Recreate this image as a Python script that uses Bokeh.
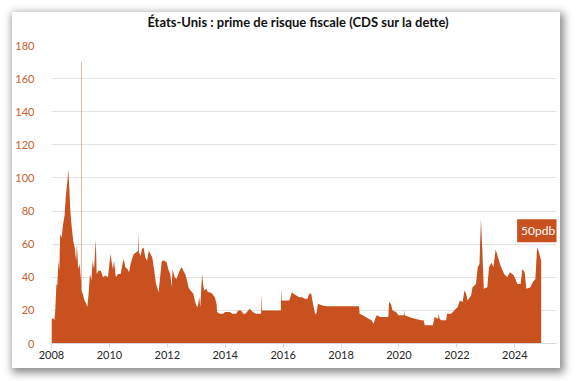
from bokeh.plotting import figure
from bokeh.models import FixedTicker, Label, Div
from bokeh.layouts import column
from bokeh.embed import file_html
from bokeh.resources import INLINE

# Spread on US sovereign CDS, in basis points (decimal years)
dates = [
    2008.00, 2008.08, 2008.10, 2008.13, 2008.17, 2008.20, 2008.24, 2008.27, 2008.30, 2008.35,
    2008.40, 2008.45, 2008.50, 2008.55, 2008.58, 2008.61, 2008.65, 2008.70, 2008.75, 2008.80,
    2008.85, 2008.88, 2008.92, 2008.97, 2009.020, 2009.024, 2009.024, 2009.038, 2009.038, 2009.08,
    2009.14, 2009.20, 2009.24, 2009.28, 2009.33, 2009.38, 2009.42, 2009.47, 2009.53, 2009.56,
    2009.62, 2009.70, 2009.78, 2009.86, 2009.95, 2010.00, 2010.04, 2010.08, 2010.12, 2010.16,
    2010.22, 2010.30, 2010.39, 2010.45, 2010.50, 2010.55, 2010.62, 2010.68, 2010.73, 2010.80,
    2010.84, 2010.92, 2010.99, 2011.00, 2011.02, 2011.08, 2011.12, 2011.18, 2011.24, 2011.30,
    2011.36, 2011.42, 2011.48, 2011.55, 2011.60, 2011.66, 2011.70, 2011.75, 2011.81, 2011.90,
    2011.98, 2012.03, 2012.10, 2012.15, 2012.18, 2012.25, 2012.32, 2012.38, 2012.45, 2012.50,
    2012.55, 2012.62, 2012.68, 2012.73, 2012.80, 2012.90, 2012.95, 2013.00, 2013.05, 2013.10,
    2013.14, 2013.20, 2013.24, 2013.28, 2013.35, 2013.40, 2013.47, 2013.55, 2013.64, 2013.70,
    2013.72, 2013.80, 2013.92, 2014.00, 2014.15, 2014.25, 2014.38, 2014.45, 2014.55, 2014.62,
    2014.70, 2014.84, 2014.95, 2015.05, 2015.24, 2015.25, 2015.27, 2015.35, 2015.55, 2015.75,
    2015.92, 2015.93, 2015.95, 2016.10, 2016.21, 2016.25, 2016.30, 2016.36, 2016.45, 2016.55,
    2016.66, 2016.75, 2016.84, 2016.90, 2016.97, 2017.02, 2017.10, 2017.15, 2017.20, 2017.35,
    2017.52, 2017.80, 2018.20, 2018.62, 2018.64, 2018.75, 2018.85, 2018.95, 2019.05, 2019.12,
    2019.18, 2019.23, 2019.35, 2019.46, 2019.63, 2019.66, 2019.72, 2019.78, 2019.90, 2019.98,
    2020.10, 2020.17, 2020.18, 2020.20, 2020.35, 2020.55, 2020.77, 2020.85, 2020.89, 2021.17,
    2021.23, 2021.35, 2021.37, 2021.40, 2021.46, 2021.63, 2021.66, 2021.80, 2021.91, 2022.03,
    2022.10, 2022.20, 2022.26, 2022.32, 2022.37, 2022.49, 2022.54, 2022.66, 2022.72, 2022.78,
    2022.83, 2022.88, 2022.93, 2023.05, 2023.11, 2023.19, 2023.26, 2023.34, 2023.42, 2023.51,
    2023.63, 2023.74, 2023.83, 2023.97, 2024.09, 2024.20, 2024.26, 2024.34, 2024.40, 2024.54,
    2024.62, 2024.71, 2024.77, 2024.82, 2024.88, 2024.91,
]
spread_bp = [
    15, 15, 14, 20, 36, 35, 50, 44, 66, 64,
    72, 77, 90, 98, 105, 96, 80, 70, 62, 58,
    50, 60, 45, 48, 38, 36, 170, 170, 32, 30,
    26, 24, 22, 30, 42, 38, 50, 45, 63, 42,
    44, 44, 40, 41, 40, 48, 54, 49, 45, 50,
    40, 42, 42, 48, 51, 46, 45, 43, 48, 52,
    54, 55, 56, 67, 55, 53, 57, 58, 52, 50,
    56, 54, 52, 44, 37, 33, 31, 40, 50, 50,
    49, 45, 42, 34, 45, 40, 39, 42, 45, 46,
    44, 42, 38, 34, 32, 30, 26, 23, 22, 28,
    22, 42, 35, 32, 33, 31, 31, 30, 28, 24,
    19, 18, 18, 19, 19, 18, 18, 20, 20, 18,
    18, 21, 19, 18, 18, 30, 20, 20, 20, 20,
    20, 33, 26, 26, 26, 28, 31, 30, 29, 28,
    28, 27, 27, 30, 30, 25, 18, 18, 24, 23,
    22.5, 22.5, 22.5, 22.5, 18, 17, 16, 15, 14, 12,
    15, 17, 16, 16, 16, 25, 24, 20, 19, 17,
    17, 17, 20, 17, 16, 15, 14, 14, 11, 11,
    16, 15, 18, 15, 14, 14, 18, 18, 20, 22,
    26, 25, 32, 30, 26, 29, 34, 36, 46, 48,
    75, 56, 33, 34, 46, 49, 46, 57, 52, 47,
    42, 40, 43, 41, 36, 36, 45, 43, 33, 34,
    37, 39, 58, 56, 52, 50,
]
year_ticks = [2008, 2010, 2012, 2014, 2016, 2018, 2020, 2022, 2024]
value_ticks = [0, 20, 40, 60, 80, 100, 120, 140, 160, 180]
title_text = "États-Unis : prime de risque fiscale (CDS sur la dette)"
last_label = f"{spread_bp[-1]}pdb"

FILL = "#c9511f"
FONT = "Lato"

heading = Div(
    text=title_text, width=548, height=20, margin=(0, 0, 0, 0),
    styles={
        "font-family": FONT, "font-weight": "bold", "font-size": "13px",
        "color": "#111111", "text-align": "center", "line-height": "20px",
        "padding-left": "24px", "box-sizing": "border-box", "white-space": "nowrap",
    },
)

p = figure(
    width=548, height=336,
    x_range=(2008.0, 2025.44), y_range=(0, 180),
    output_backend="svg", toolbar_location=None,
    min_border_left=35, min_border_right=4, min_border_top=13, min_border_bottom=25,
)
p.margin = (0, 0, 0, 0)
p.background_fill_color = "white"
p.border_fill_color = "white"
p.outline_line_color = None

p.varea(x=dates, y1=0, y2=spread_bp, fill_color=FILL)

# Axes
p.xaxis.ticker = FixedTicker(ticks=year_ticks)
p.xaxis.axis_line_color = "#d9d9d9"
p.xaxis.major_tick_line_color = "#d9d9d9"
p.xaxis.major_tick_in = 0
p.xaxis.major_tick_out = 4
p.xaxis.minor_tick_line_color = None
p.xaxis.major_label_standoff = 3
p.xaxis.major_label_text_font = FONT
p.xaxis.major_label_text_font_size = "11px"
p.xaxis.major_label_text_color = "#262626"

p.yaxis.ticker = FixedTicker(ticks=value_ticks)
p.yaxis.axis_line_color = None
p.yaxis.major_tick_line_color = None
p.yaxis.minor_tick_line_color = None
p.yaxis.major_label_standoff = 11
p.yaxis.major_label_text_font = FONT
p.yaxis.major_label_text_font_size = "11px"
p.yaxis.major_label_text_color = "#c5602e"

p.xgrid.grid_line_color = None
p.ygrid.grid_line_color = "#e3e3e3"
p.ygrid.grid_line_width = 1

# Latest value tag
p.add_layout(Label(
    x=dates[-1], y=spread_bp[-1], text=last_label,
    x_offset=-3, y_offset=30,
    text_align="center", text_baseline="middle",
    text_font=FONT, text_font_size="12px", text_color="white",
    background_fill_color=FILL, padding=4,
))

card = column(
    heading, p, spacing=0,
    margin=(12, 16, 13, 12),
    styles={"box-shadow": "2px 3px 8px 2px rgba(0,0,0,0.45)", "background-color": "white"},
)

open("out.html", "w").write(file_html(card, INLINE))
